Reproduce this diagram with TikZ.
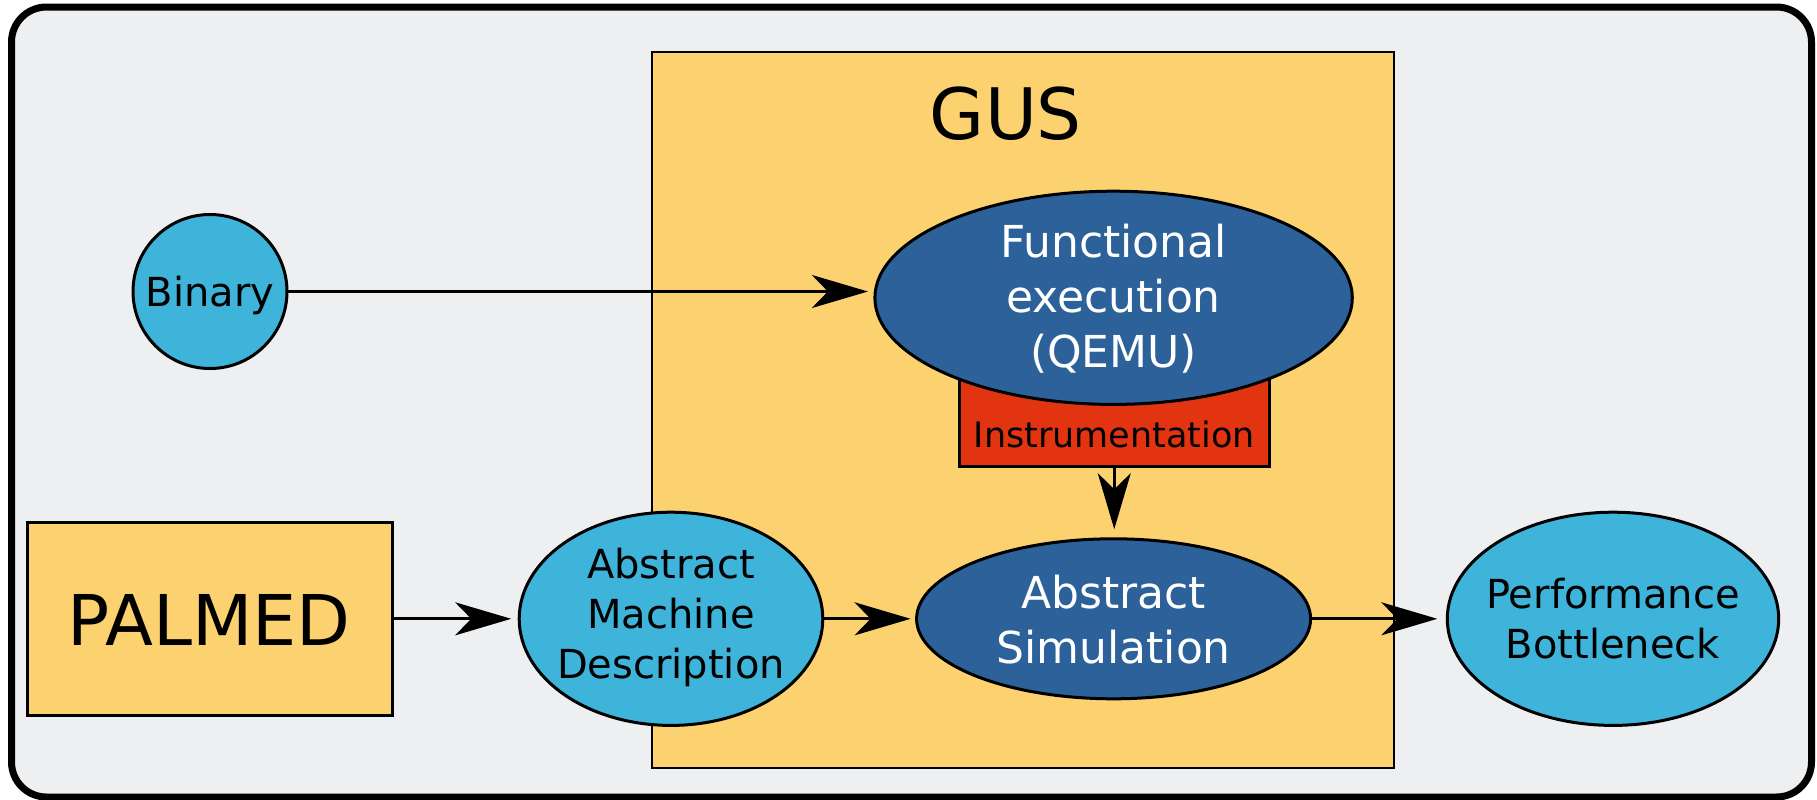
\documentclass[tikz,border=0pt]{standalone}
\usepackage{fontspec}
\setmainfont{DejaVu Sans}
\usetikzlibrary{arrows.meta,shapes.geometric}
\definecolor{bgc}{HTML}{EEEFF1}
\definecolor{gusy}{HTML}{FCD271}
\definecolor{dblue}{HTML}{2C6299}
\definecolor{lblue}{HTML}{3EB4DA}
\definecolor{instr}{HTML}{E33412}
\begin{document}
\begin{tikzpicture}[x=0.5pt,y=-0.5pt,
  shp/.style={draw=black, line width=1.5pt, inner sep=0pt, outer sep=0pt},
  ell/.style={shp, ellipse},
  txt/.style={inner sep=0pt, outer sep=0pt, align=center},
  bigf/.style={font=\fontsize{22pt}{27.5pt}\selectfont},
  midf/.style={font=\fontsize{20pt}{25pt}\selectfont},
  conn/.style={line width=1.4pt, -{Stealth[length=28pt,width=16.5pt,inset=8pt]}}]
\useasboundingbox (0,0) rectangle (1817,799);
% outer frame
\draw[line width=3.5pt, rounded corners=17.5pt, fill=bgc] (11.5,7) rectangle (1811.5,797);
% GUS box
\node[shp, draw, fill=gusy, line width=1.1pt, minimum width=371pt, minimum height=358pt] (gus) at (1023,410) {};
\node[txt, anchor=base, font=\fontsize{35.5pt}{42pt}\selectfont] (gust) at (1006,139) {GUS};
% Binary
\node[shp, circle, fill=lblue, minimum size=77pt] (bin) at (210,291.5) {};
\node[txt, anchor=base, midf] (bint) at (210,306) {Binary};
% Instrumentation
\node[shp, rectangle, fill=instr, minimum width=154.75pt, minimum height=63pt] (inst) at (1114.25,403) {};
\node[txt, anchor=base, font=\fontsize{17.5pt}{21pt}\selectfont] (instt) at (1114.25,447) {Instrumentation};
% Functional execution
\node[ell, fill=dblue, minimum width=238.7pt, minimum height=106.6pt] (fe) at (1113.6,297.8) {};
\node[txt, bigf, text=white] (fet) at (1113.6,298.5) {Functional\\execution\\(QEMU)};
% Abstract Machine Description
\node[ell, fill=lblue, minimum width=151.8pt, minimum height=106.6pt] (amd) at (671,618.8) {};
\node[txt, midf] (amdt) at (671,617) {Abstract\\Machine\\Description};
% Abstract Simulation
\node[ell, fill=dblue, minimum width=197pt, minimum height=80pt] (as) at (1113.6,618.8) {};
\node[txt, bigf, text=white] (ast) at (1113.6,619.5) {Abstract\\Simulation};
% Performance Bottleneck
\node[ell, fill=lblue, minimum width=165.7pt, minimum height=106.6pt] (pb) at (1613,618.8) {};
\node[txt, midf] (pbt) at (1613,618.5) {Performance\\Bottleneck};
% PALMED
\node[shp, rectangle, fill=gusy, minimum width=182.5pt, minimum height=96.2pt] (pal) at (210.3,618.8) {};
\node[txt, anchor=base, font=\fontsize{35pt}{42pt}\selectfont] (palt) at (209,645.5) {PALMED};
% connectors
\draw[conn, shorten >=3.5pt] (bin.east) -- (bin.east -| fe.west);
\draw[conn, shorten >=4pt] (pal.east) -- (amd.west);
\draw[conn, shorten >=3pt] (amd.east) -- (as.west);
\draw[conn, shorten >=5pt] (as.east) -- (pb.west);
\draw[conn, shorten >=4.8pt] (inst.south) -- (inst.south |- as.north);
\end{tikzpicture}
\end{document}
